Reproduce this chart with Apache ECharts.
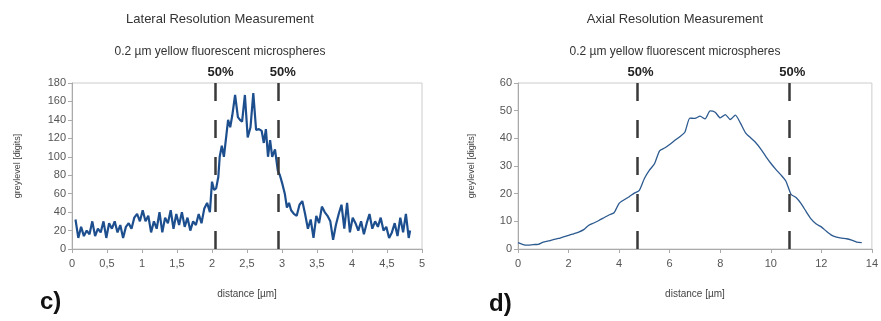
<!DOCTYPE html>
<html>
<head>
<meta charset="utf-8">
<style>
  html, body { margin: 0; padding: 0; background: #fff; }
  #main { width: 881px; height: 321px; }
</style>
</head>
<body>
<div id="main"></div>
<script src="https://cdn.jsdelivr.net/npm/echarts@6/dist/echarts.min.js"></script>
<script type="text/javascript">
// lateral profile (c)
var latX = [0.05, 0.09, 0.13, 0.17, 0.21, 0.25, 0.29, 0.33, 0.37, 0.41, 0.45, 0.49, 0.53, 0.57, 0.61, 0.65,
  0.69, 0.73, 0.77, 0.81, 0.85, 0.89, 0.93, 0.97, 1.01, 1.05, 1.09, 1.13, 1.17, 1.21, 1.25, 1.29, 1.33,
  1.37, 1.41, 1.45, 1.49, 1.53, 1.57, 1.61, 1.65, 1.69, 1.73, 1.77, 1.81, 1.85, 1.89, 1.93, 1.97, 2.00,
  2.03, 2.06, 2.09, 2.11, 2.14, 2.17, 2.20, 2.23, 2.26, 2.29, 2.33, 2.37, 2.40, 2.43, 2.47, 2.51, 2.55,
  2.59, 2.63, 2.67, 2.71, 2.74, 2.77, 2.80, 2.83, 2.86, 2.90, 2.94, 2.97, 3.00, 3.04, 3.07, 3.10, 3.13,
  3.17, 3.21, 3.25, 3.29, 3.33, 3.37, 3.41, 3.45, 3.49, 3.53, 3.57, 3.61, 3.65, 3.69, 3.73, 3.77, 3.81,
  3.85, 3.89, 3.93, 3.97, 4.01, 4.05, 4.09, 4.13, 4.17, 4.21, 4.25, 4.29, 4.33, 4.37, 4.41, 4.45, 4.49,
  4.53, 4.57, 4.61, 4.65, 4.69, 4.73, 4.77, 4.81, 4.83];
var latY = [32, 12, 24, 14, 20, 16, 30, 14, 22, 18, 30, 12, 28, 22, 30, 18,
  26, 12, 24, 28, 22, 34, 38, 30, 42, 30, 36, 18, 30, 22, 40, 18, 34,
  28, 42, 22, 38, 26, 40, 24, 34, 20, 30, 26, 38, 28, 44, 50, 40, 73,
  64, 66, 78, 100, 112, 100, 120, 140, 132, 145, 167, 143, 140, 138, 167, 121, 132,
  169, 129, 130, 128, 115, 130, 100, 118, 100, 108, 85, 80, 72, 60, 45, 50, 42,
  38, 36, 48, 52, 38, 22, 32, 12, 36, 28, 46, 40, 36, 30, 10, 26,
  38, 48, 22, 50, 18, 34, 28, 20, 30, 16, 28, 38, 22, 30, 24, 34, 20, 24,
  12, 18, 28, 14, 34, 18, 38, 12, 20];
var latHalf = [2.05, 2.94];

// axial profile (d)
var axX = [0, 0.2, 0.4, 0.6, 0.8, 1.0, 1.2, 1.4, 1.6, 1.8, 2.0, 2.2, 2.4, 2.6, 2.8, 3.0, 3.2, 3.4,
  3.6, 3.8, 4.0, 4.2, 4.4, 4.6, 4.8, 5.0, 5.2, 5.4, 5.6, 5.8, 6.0, 6.2, 6.4, 6.6, 6.8, 7.0, 7.2,
  7.4, 7.6, 7.8, 8.0, 8.2, 8.4, 8.6, 8.8, 9.0, 9.2, 9.4, 9.6, 9.8, 10.0, 10.2, 10.4, 10.6, 10.8,
  11.0, 11.2, 11.4, 11.6, 11.8, 12.0, 12.2, 12.4, 12.6, 12.8, 13.0, 13.2, 13.4, 13.6];
var axY = [2.3, 1.6, 1.4, 1.6, 1.7, 2.5, 2.9, 3.4, 3.8, 4.4, 4.9, 5.5, 6.1, 7.0, 8.6, 9.4, 10.3, 11.3,
  12.3, 13.1, 16.5, 17.8, 18.9, 20.2, 21.2, 25.5, 28.5, 30.8, 35.5, 36.5, 37.8, 39.2, 40.6, 42.2, 47.3, 47.2, 48.0,
  47.0, 49.9, 49.4, 47.4, 48.6, 46.8, 48.4, 45.5, 42.0, 40.2, 38.5, 36.2, 33.5, 31.0, 28.8, 26.8, 24.5, 19.8,
  18.6, 16.4, 13.5, 10.8, 9.0, 8.0, 6.4, 5.0, 4.3, 3.9, 3.7, 3.2, 2.5, 2.3];
var axHalf = [4.73, 10.73];

function pairs(xs, ys) {
  return xs.map(function (x, i) { return [x, ys[i]]; });
}

var labelStyle = { color: '#555', fontSize: 11, fontFamily: 'Liberation Sans' };
var axLine = { lineStyle: { color: '#aaa' } };
var tick = { show: true, length: 4, lineStyle: { color: '#aaa' } };
var nameStyle = { fontSize: 10, color: '#444', fontFamily: 'Liberation Sans' };

function halfLines(vals, shift) {
  return {
    symbol: 'none',
    silent: true,
    lineStyle: { color: '#3a3a3a', width: 2.5, type: [18, 19] },
    label: { position: 'end', formatter: '50%', fontWeight: 'bold', fontSize: 13,
      color: '#222', fontFamily: 'Liberation Sans', distance: 4, padding: [0, 0, 0, shift] },
    data: vals.map(function (v) { return { xAxis: v }; })
  };
}

var myChart = echarts.init(document.getElementById('main'));

var option = {
  animation: false,
  backgroundColor: '#fff',
  title: [
    { text: 'Lateral Resolution Measurement', left: 215, top: 8, textAlign: 'center',
      textStyle: { fontSize: 13, fontWeight: 'normal', color: '#333', fontFamily: 'Liberation Sans' } },
    { text: '0.2 µm yellow fluorescent microspheres', left: 215, top: 41, textAlign: 'center',
      textStyle: { fontSize: 12, fontWeight: 'normal', color: '#333', fontFamily: 'Liberation Sans' } },
    { text: 'Axial Resolution Measurement', left: 670, top: 8, textAlign: 'center',
      textStyle: { fontSize: 13, fontWeight: 'normal', color: '#333', fontFamily: 'Liberation Sans' } },
    { text: '0.2 µm yellow fluorescent microspheres', left: 670, top: 41, textAlign: 'center',
      textStyle: { fontSize: 12, fontWeight: 'normal', color: '#333', fontFamily: 'Liberation Sans' } }
  ],
  grid: [
    { left: 72, right: 459, top: 83, bottom: 72, show: true, borderColor: '#ccc', borderWidth: 1 },
    { left: 518, right: 4, top: 83, bottom: 72, show: true, borderColor: '#ccc', borderWidth: 1 }
  ],
  xAxis: [
    { type: 'value', gridIndex: 0, min: 0, max: 5, interval: 0.5,
      name: 'distance [µm]', nameLocation: 'middle', nameGap: 40, nameTextStyle: nameStyle,
      axisLine: axLine, axisTick: tick, splitLine: { show: false },
      axisLabel: Object.assign({ margin: 9, formatter: function (v) { return String(v).replace('.', ','); } }, labelStyle) },
    { type: 'value', gridIndex: 1, min: 0, max: 14, interval: 2,
      name: 'distance [µm]', nameLocation: 'middle', nameGap: 40, nameTextStyle: nameStyle,
      axisLine: axLine, axisTick: tick, splitLine: { show: false },
      axisLabel: Object.assign({ margin: 9 }, labelStyle) }
  ],
  yAxis: [
    { type: 'value', gridIndex: 0, min: 0, max: 180, interval: 20,
      name: 'greylevel [digits]', nameLocation: 'middle', nameGap: 50,
      nameTextStyle: { fontSize: 9, color: '#444', fontFamily: 'Liberation Sans' },
      axisLine: { show: true, lineStyle: { color: '#aaa' } }, axisTick: tick, splitLine: { show: false },
      axisLabel: Object.assign({ margin: 6 }, labelStyle) },
    { type: 'value', gridIndex: 1, min: 0, max: 60, interval: 10,
      name: 'greylevel [digits]', nameLocation: 'middle', nameGap: 42,
      nameTextStyle: { fontSize: 9, color: '#444', fontFamily: 'Liberation Sans' },
      axisLine: { show: true, lineStyle: { color: '#aaa' } }, axisTick: tick, splitLine: { show: false },
      axisLabel: Object.assign({ margin: 6 }, labelStyle) }
  ],
  graphic: [
    { type: 'text', left: 40, top: 290, style: { text: 'c)', fontSize: 24, fontWeight: 'bold', fill: '#111', fontFamily: 'Liberation Sans' } },
    { type: 'text', left: 489, top: 292, style: { text: 'd)', fontSize: 24, fontWeight: 'bold', fill: '#111', fontFamily: 'Liberation Sans' } }
  ],
  series: [
    { type: 'line', xAxisIndex: 0, yAxisIndex: 0, data: pairs(latX, latY), showSymbol: false,
      lineStyle: { color: '#1d4f8f', width: 2.2 }, markLine: halfLines(latHalf, 10) },
    { type: 'line', xAxisIndex: 1, yAxisIndex: 1, data: pairs(axX, axY), showSymbol: false, smooth: 0.2,
      lineStyle: { color: '#2c5a90', width: 1.3 }, markLine: halfLines(axHalf, 6) }
  ]
};

myChart.setOption(option);
</script>
</body>
</html>
